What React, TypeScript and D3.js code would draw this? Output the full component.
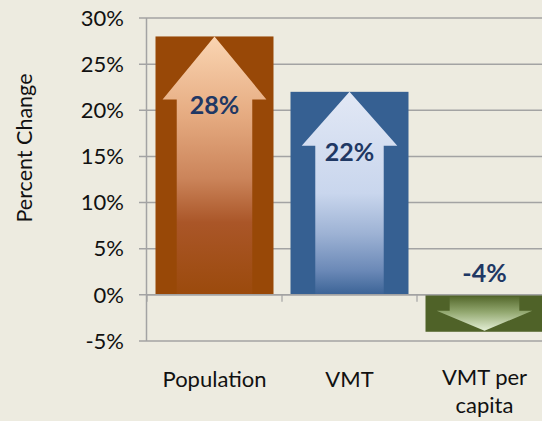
import React from "react";
import * as d3 from "d3";

const categories = ["Population", "VMT", "VMT per capita"];
const categoryLines = [["Population"], ["VMT"], ["VMT per", "capita"]];
const values = [28, 22, -4];
const valueLabels = ["28%", "22%", "-4%"];
const yTicks = [-5, 0, 5, 10, 15, 20, 25, 30];

const W = 542;
const H = 421;
const BG = "#EDEBE0";
const GRID = "#A3A3A3";
const FONT = "Lato, 'Open Sans', sans-serif";
const LABEL_COLOR = "#1F3864";
const TEXT_COLOR = "#111111";

const barColors = ["#984807", "#366092", "#4F6228"];
// arrow shape per bar: head width fraction, shaft width fraction, head height px
const arrowShape = [
  { head: 0.88, shaft: 0.64, headH: 63 },
  { head: 0.81, shaft: 0.58, headH: 54 },
  { head: 0.81, shaft: 0.59, headH: 20 },
];
const gradStops: [number, string][][] = [
  [
    [0, "#FAD5B2"],
    [0.3, "#E6AC82"],
    [0.55, "#CB845A"],
    [0.72, "#AA5628"],
    [1, "#9B4A0C"],
  ],
  [
    [0, "#E2E8F5"],
    [0.5, "#C9D6ED"],
    [0.7, "#9DB2D4"],
    [0.88, "#6B89B7"],
    [1, "#3B6396"],
  ],
  [
    [0, "#566A2E"],
    [0.45, "#93A870"],
    [1, "#E4EFD6"],
  ],
];

export default function App() {
  const x = d3
    .scaleBand<string>()
    .domain(categories)
    .range([147, 552])
    .paddingInner(0.126)
    .paddingOuter(0.063);
  const y = d3.scaleLinear().domain([-5, 30]).range([341, 18]);
  const step = x.step();
  const y0 = y(0);

  return (
    <svg
      width={W}
      height={H}
      style={{ position: "absolute", left: 0, top: 0, background: BG }}
    >
      <defs>
        {gradStops.map((stops, i) => (
          <linearGradient key={i} id={`g${i}`} x1="0" y1="0" x2="0" y2="1">
            {stops.map(([o, c], j) => (
              <stop key={j} offset={o} stopColor={c} />
            ))}
          </linearGradient>
        ))}
      </defs>
      <rect x={0} y={0} width={W} height={H} fill={BG} />
      {/* gridlines */}
      {yTicks.map((t) => (
        <line
          key={t}
          x1={139}
          x2={552}
          y1={y(t)}
          y2={y(t)}
          stroke={GRID}
          strokeWidth={1.5}
        />
      ))}
      {/* y axis */}
      <line x1={146.5} x2={146.5} y1={y(30)} y2={y(-5)} stroke={GRID} strokeWidth={1.5} />
      {yTicks.map((t) => (
        <text
          key={t}
          x={124}
          y={y(t)}
          dy="0.35em"
          textAnchor="end"
          fontFamily={FONT}
          fontSize={22}
          fill={TEXT_COLOR}
        >
          {`${t}%`}
        </text>
      ))}
      <text
        transform={`translate(24,${148}) rotate(-90)`}
        textAnchor="middle"
        dy="0.35em"
        fontFamily={FONT}
        fontSize={21.5}
        fill={TEXT_COLOR}
      >
        Percent Change
      </text>
      {/* bars */}
      {categories.map((c, i) => {
        const bx = x(c)!;
        const bw = x.bandwidth();
        const v = values[i];
        const yTop = Math.min(y(v), y0);
        const yBot = Math.max(y(v), y0);
        const cx = bx + bw / 2;
        const s = arrowShape[i];
        const hw = (s.head * bw) / 2;
        const sw = (s.shaft * bw) / 2;
        let pts: [number, number][];
        if (v >= 0) {
          const tip = y(v);
          const base = tip + s.headH;
          pts = [
            [cx, tip],
            [cx + hw, base],
            [cx + sw, base],
            [cx + sw, y0],
            [cx - sw, y0],
            [cx - sw, base],
            [cx - hw, base],
          ];
        } else {
          const tip = y(v) - 1;
          const base = tip - s.headH;
          const top = y0 + 2;
          pts = [
            [cx - sw, top],
            [cx + sw, top],
            [cx + sw, base],
            [cx + hw, base],
            [cx, tip],
            [cx - hw, base],
            [cx - sw, base],
          ];
        }
        const line = d3.line();
        const labelY = v >= 0 ? y(v) + s.headH + 6 : y0 - 22;
        return (
          <g key={c}>
            <rect x={bx} y={yTop} width={bw} height={yBot - yTop} fill={barColors[i]} />
            <path d={line(pts)! + "Z"} fill={`url(#g${i})`} />
            <text
              x={cx}
              y={labelY}
              dy="0.35em"
              textAnchor="middle"
              fontFamily={FONT}
              fontWeight="bold"
              fontSize={25}
              fill={LABEL_COLOR}
            >
              {valueLabels[i]}
            </text>
          </g>
        );
      })}
      {/* x axis */}
      <line x1={146} x2={552} y1={y0} y2={y0} stroke={GRID} strokeWidth={1.5} />
      {[...categories.map((c) => x(c)! - (step - x.bandwidth()) / 2), 552].map((tx, i) => (
        <line key={i} x1={tx} x2={tx} y1={y0} y2={y0 + 7} stroke={GRID} strokeWidth={1.2} />
      ))}
      {categories.map((c, i) =>
        categoryLines[i].map((ln, j) => (
          <text
            key={c + j}
            x={x(c)! + x.bandwidth() / 2}
            y={(categoryLines[i].length > 1 ? 385 : 387) + j * 28}
            textAnchor="middle"
            fontFamily={FONT}
            fontSize={22}
            fill={TEXT_COLOR}
          >
            {ln}
          </text>
        ))
      )}
    </svg>
  );
}
